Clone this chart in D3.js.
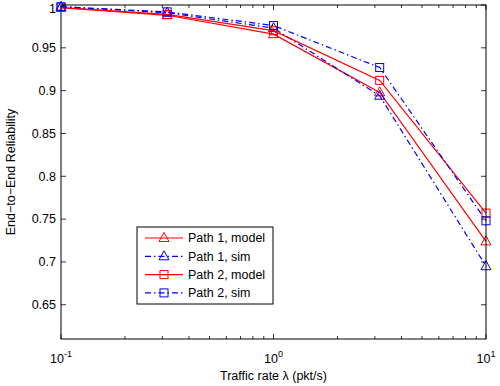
<!DOCTYPE html>
<html>
<head>
<meta charset="utf-8">
<script src="https://cdn.jsdelivr.net/npm/d3@7"></script>
<style>
  body { margin: 0; background: #fff; }
  svg { font-family: "Liberation Sans", Arial, sans-serif; }
</style>
</head>
<body>
<div id="chart"></div>
<script>
// traffic rates (pkt/s)
const rates = [0.1, 0.316, 1, 3.16, 10];
const path1Model = [0.997, 0.988, 0.966, 0.898, 0.724];
const path1Sim   = [0.998, 0.991, 0.973, 0.894, 0.695];
const path2Model = [0.997, 0.989, 0.970, 0.912, 0.757];
const path2Sim   = [0.998, 0.992, 0.976, 0.927, 0.748];
const yTicks = [0.65, 0.7, 0.75, 0.8, 0.85, 0.9, 0.95, 1];
const xTicks = [0.1, 1, 10];
const xTickExp = ["-1", "0", "1"];

const series = [
  { name: "Path 1, model", values: path1Model, color: "#ff0000", dash: null, marker: "tri" },
  { name: "Path 1, sim",   values: path1Sim,   color: "#0000ff", dash: "6,3,1.5,3", marker: "tri" },
  { name: "Path 2, model", values: path2Model, color: "#ff0000", dash: null, marker: "sq" },
  { name: "Path 2, sim",   values: path2Sim,   color: "#0000ff", dash: "6,3,1.5,3", marker: "sq" }
];

const W = 500, H = 386;
const margin = { top: 5, right: 14, bottom: 47, left: 61 };
const width = W - margin.left - margin.right;
const height = H - margin.top - margin.bottom;

const svg = d3.select("#chart").append("svg")
  .attr("width", W).attr("height", H);
const chart = svg.append("g")
  .attr("transform", `translate(${margin.left},${margin.top})`);

const xScale = d3.scaleLog().domain([0.1, 10]).range([0, width]);
const yScale = d3.scaleLinear().domain([0.61, 1]).range([height, 0]);

// minor log ticks
const minor = [];
for (let dec = 0.1; dec < 10; dec *= 10) {
  for (let k = 2; k <= 9; k++) minor.push(dec * k);
}

const tickG = chart.append("g").attr("stroke", "#000").attr("stroke-width", 0.8);
minor.forEach(v => {
  const x = xScale(v);
  tickG.append("line").attr("x1", x).attr("x2", x).attr("y1", height).attr("y2", height - 3);
  tickG.append("line").attr("x1", x).attr("x2", x).attr("y1", 0).attr("y2", 3);
});
xTicks.forEach(v => {
  const x = xScale(v);
  tickG.append("line").attr("x1", x).attr("x2", x).attr("y1", height).attr("y2", height - 5);
  tickG.append("line").attr("x1", x).attr("x2", x).attr("y1", 0).attr("y2", 5);
});
yTicks.forEach(v => {
  const y = yScale(v);
  tickG.append("line").attr("x1", 0).attr("x2", 5).attr("y1", y).attr("y2", y);
  tickG.append("line").attr("x1", width).attr("x2", width - 5).attr("y1", y).attr("y2", y);
});

// y tick labels (top one nudged down so it stays inside the page)
chart.append("g").selectAll("text").data(yTicks).enter().append("text")
  .attr("x", -5).attr("y", d => yScale(d)).attr("dy", d => d === 1 ? "0.62em" : "0.35em")
  .attr("text-anchor", "end").attr("font-size", 12.5)
  .text(d => d3.format("")(d));

// x tick labels with exponents
const xl = chart.append("g");
xTicks.forEach((v, i) => {
  const t = xl.append("text")
    .attr("x", xScale(v)).attr("y", height + 24)
    .attr("text-anchor", "middle").attr("font-size", 12.5);
  t.append("tspan").text("10");
  t.append("tspan").attr("dy", -6).attr("font-size", 9).text(xTickExp[i]);
});

// axis labels
chart.append("text")
  .attr("x", width / 2).attr("y", height + 41)
  .attr("text-anchor", "middle").attr("font-size", 12.5)
  .text("Traffic rate λ (pkt/s)");
chart.append("text")
  .attr("transform", `translate(${-46},${height / 2}) rotate(-90)`)
  .attr("text-anchor", "middle").attr("font-size", 12.5)
  .text("End−to−End Reliability");

const line = d3.line()
  .x((d, i) => xScale(rates[i]))
  .y(d => yScale(d));

function drawMarker(g, type, x, y, color) {
  if (type === "tri") {
    g.append("path")
      .attr("d", `M${x},${y - 5.5}L${x + 5},${y + 3.5}L${x - 5},${y + 3.5}Z`)
      .attr("fill", "none").attr("stroke", color).attr("stroke-width", 1);
  } else {
    g.append("rect")
      .attr("x", x - 4).attr("y", y - 4).attr("width", 8).attr("height", 8)
      .attr("fill", "none").attr("stroke", color).attr("stroke-width", 1);
  }
}

const plot = chart.append("g");
series.forEach(s => {
  const g = plot.append("g");
  g.append("path")
    .attr("d", line(s.values))
    .attr("fill", "none")
    .attr("stroke", s.color)
    .attr("stroke-width", 1.2)
    .attr("stroke-dasharray", s.dash);
  s.values.forEach((v, i) => drawMarker(g, s.marker, xScale(rates[i]), yScale(v), s.color));
});

// frame
chart.append("rect")
  .attr("width", width).attr("height", height)
  .attr("fill", "none").attr("stroke", "#000").attr("stroke-width", 1);

// legend
const lg = svg.append("g").attr("transform", "translate(137,227)");
lg.append("rect").attr("width", 136).attr("height", 77)
  .attr("fill", "#fff").attr("stroke", "#000").attr("stroke-width", 1);
series.forEach((s, i) => {
  const y = 11 + i * 18.3;
  const row = lg.append("g");
  row.append("line").attr("x1", 8).attr("x2", 46).attr("y1", y).attr("y2", y)
    .attr("stroke", s.color).attr("stroke-width", 1.2)
    .attr("stroke-dasharray", s.dash);
  drawMarker(row, s.marker, 27, y, s.color);
  row.append("text").attr("x", 51).attr("y", y).attr("dy", "0.35em")
    .attr("font-size", 12.5).text(s.name);
});
</script>
</body>
</html>
